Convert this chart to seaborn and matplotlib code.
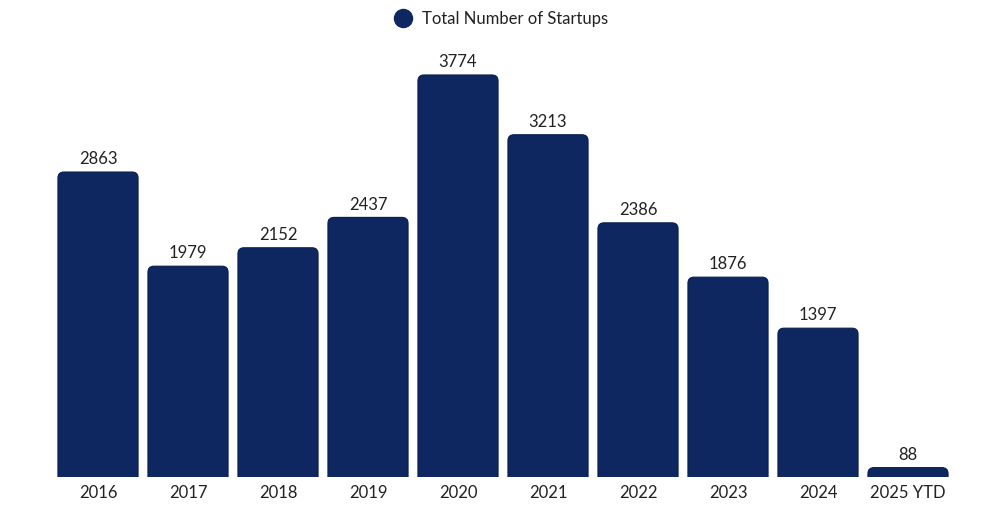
import matplotlib
matplotlib.use("Agg")
import matplotlib.pyplot as plt
import seaborn as sns
import pandas as pd
from matplotlib.patches import FancyBboxPatch
from matplotlib.lines import Line2D

# Datos del gráfico
years = ["2016", "2017", "2018", "2019", "2020", "2021", "2022", "2023", "2024", "2025 YTD"]
startups = [2863, 1979, 2152, 2437, 3774, 3213, 2386, 1876, 1397, 88]
series_name = "Total Number of Startups"

bar_color = "#0F2760"
text_color = "#222222"

df = pd.DataFrame({"year": years, "count": startups})

sns.set_theme(style="white")
plt.rcParams["font.family"] = ["Lato", "DejaVu Sans"]

fig = plt.figure(figsize=(9.95, 5.11), dpi=100)
ax = fig.add_axes([53 / 995, 34 / 511, 900 / 995, 436 / 511])

sns.barplot(data=df, x="year", y="count", color=bar_color, width=0.89,
            saturation=1, ax=ax)
ax.set_ylim(0, 4093)
ax.set_xlim(-0.5, len(years) - 0.5)

# Esquinas superiores redondeadas
px_x = 1 / 90.0
px_y = 4093 / 436.0
radius = 6
rx = radius * px_x
ry = radius * px_y
for p in list(ax.patches):
    x, w, h = p.get_x(), p.get_width(), p.get_height()
    p.remove()
    rb = FancyBboxPatch((x, -ry * 2), w, h + ry * 2,
                        boxstyle=f"round,pad=0,rounding_size={rx}",
                        mutation_aspect=ry / rx,
                        facecolor=bar_color, edgecolor="#0A1E4E", linewidth=0.8,
                        clip_on=True)
    ax.add_patch(rb)

for i, v in enumerate(startups):
    ax.text(i, v + 45, str(v), ha="center", va="bottom", fontsize=12, color=text_color)

sns.despine(ax=ax, left=True, bottom=True)
ax.set_yticks([])
ax.set_xlabel("")
ax.set_ylabel("")
ax.tick_params(axis="x", length=0, labelsize=12, labelcolor=text_color, pad=6)

handle = Line2D([], [], marker="o", linestyle="", markersize=13,
                markerfacecolor=bar_color, markeredgecolor=bar_color)
fig.legend([handle], [series_name], loc="center", bbox_to_anchor=(0.5, 1 - 19 / 511),
           frameon=False, fontsize=12, handletextpad=0.15, labelcolor=text_color)

plt.savefig("out.png", dpi=100)
plt.close()
